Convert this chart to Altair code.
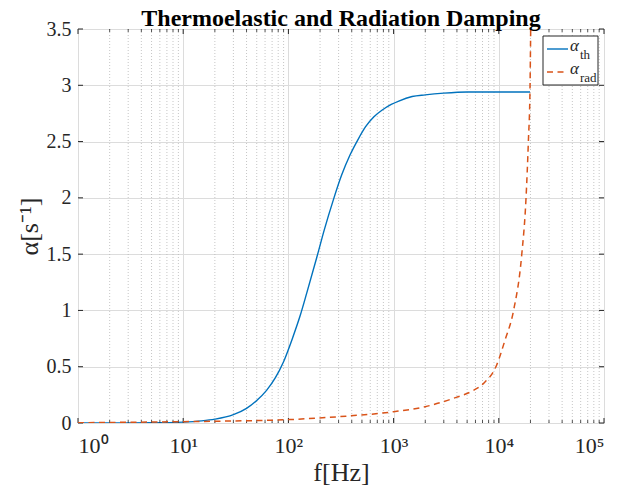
import json
import altair as alt
import pandas as pd

# ---------------- data ----------------
TITLE = "Thermoelastic and Radiation Damping"
X_TITLE = "f[Hz]"
Y_TITLE = "α[s⁻¹]"

freq_th = [1, 2, 5, 10, 15, 20, 30, 40, 50, 62, 75, 89.5, 110, 129, 150, 186, 220, 267, 320, 385,
           460, 540, 650, 780, 950, 1120, 1500, 2000, 3000, 5000, 10000, 19800]
alpha_th = [0.0003, 0.0005, 0.002, 0.008, 0.019, 0.034, 0.074, 0.13, 0.20, 0.29, 0.40, 0.54, 0.76, 0.95,
            1.16, 1.47, 1.72, 1.98, 2.2, 2.38, 2.52, 2.63, 2.72, 2.78, 2.83, 2.86, 2.9, 2.915, 2.93, 2.94,
            2.94, 2.94]

freq_rad = [1, 10, 30, 100, 300, 1000, 2000, 4000, 5500, 7130, 9550, 11460, 13750, 16500, 18150, 19100,
            19800, 20100]
alpha_rad = [0.002, 0.012, 0.018, 0.03, 0.056, 0.10, 0.145, 0.23, 0.28, 0.35, 0.515, 0.737, 0.99, 1.49,
             2.0, 2.5, 2.97, 3.5]

series_symbol = "α"
series_subs = ["th", "rad"]

x_major = [1, 10, 100, 1000, 10000, 100000]
x_major_labels = ["10⁰", "10¹", "10²", "10³", "10⁴", "10⁵"]
y_major = [0, 0.5, 1, 1.5, 2, 2.5, 3, 3.5]
x_minor = [k * 10 ** d for d in range(5) for k in range(2, 10)]

# ---------------- styling ----------------
W, H = 526, 394
FONT = "Liberation Serif"
BLUE = "#0072BD"
RED = "#D95319"
DARK = "#262626"
GRID = "#dcdcdc"

xscale = alt.Scale(type="log", domain=[1, 100000])
yscale = alt.Scale(domain=[0, 3.5])

label_expr = json.dumps(x_major_labels, ensure_ascii=False) + "[round(log(datum.value)/LN10)]"

x_axis = alt.Axis(
    values=x_major, labelExpr=label_expr, title=X_TITLE, grid=True, gridColor=GRID,
    gridWidth=1, tickSize=0, domain=False, labelFont=FONT, labelFontSize=22,
    labelColor=DARK, labelPadding=12, titleFont=FONT, titleFontSize=26,
    titleFontWeight="normal", titleColor=DARK, titlePadding=3,
)
y_axis = alt.Axis(
    values=y_major, format="~g", title=Y_TITLE, grid=True, gridColor=GRID, gridWidth=1,
    tickSize=0, domain=False, labelFont=FONT, labelFontSize=20, labelColor=DARK,
    labelPadding=7, titleFont=FONT, titleFontSize=26, titleFontWeight="normal",
    titleColor=DARK, titlePadding=4,
)

X = alt.X("f:Q", scale=xscale, axis=x_axis)
Y = alt.Y("a:Q", scale=yscale, axis=y_axis)

df_th = pd.DataFrame({"f": freq_th, "a": alpha_th})
df_rad = pd.DataFrame({"f": freq_rad, "a": alpha_rad})
df_minor = pd.DataFrame({"f": x_minor})
df_xmaj = pd.DataFrame({"f": x_major})
df_ymaj = pd.DataFrame({"a": y_major})
one = pd.DataFrame({"k": [0]})

# minor dotted grid
minor_grid = alt.Chart(df_minor).mark_rule(color="#b8b8b8", strokeWidth=0.8, strokeDash=[1, 2]).encode(x=X)

# inward ticks (MATLAB style)
xt_min_b = alt.Chart(df_minor).mark_rule(color=DARK, strokeWidth=0.8).encode(
    x=X, y=alt.value(H), y2=alt.value(H - 3))
xt_min_t = alt.Chart(df_minor).mark_rule(color=DARK, strokeWidth=0.8).encode(
    x=X, y=alt.value(0), y2=alt.value(3))
xt_maj_b = alt.Chart(df_xmaj).mark_rule(color=DARK, strokeWidth=1).encode(
    x=X, y=alt.value(H), y2=alt.value(H - 5))
xt_maj_t = alt.Chart(df_xmaj).mark_rule(color=DARK, strokeWidth=1).encode(
    x=X, y=alt.value(0), y2=alt.value(5))
yt_l = alt.Chart(df_ymaj).mark_rule(color=DARK, strokeWidth=1).encode(
    y=Y, x=alt.value(0), x2=alt.value(5))
yt_r = alt.Chart(df_ymaj).mark_rule(color=DARK, strokeWidth=1).encode(
    y=Y, x=alt.value(W), x2=alt.value(W - 5))

line_th = alt.Chart(df_th).mark_line(color=BLUE, strokeWidth=1.4, interpolate="monotone", clip=True).encode(
    x=X, y=Y)
line_rad = alt.Chart(df_rad).mark_line(color=RED, strokeWidth=1.5, strokeDash=[6, 4.5],
                                       interpolate="monotone", clip=True).encode(x=X, y=Y)

# title as text (kept clear of the axis label bounds)
title_txt = alt.Chart(one).mark_text(font=FONT, fontSize=24, fontWeight="bold", color="#000000",
                                     align="center", baseline="alphabetic").encode(
    x=alt.value(W / 2), y=alt.value(-3), text=alt.value(TITLE))

# legend box
LX0, LX1, LY0, LY1 = 465, 520, 7, 56
leg_box = alt.Chart(one).mark_rect(fill="white", stroke=DARK, strokeWidth=1).encode(
    x=alt.value(LX0), x2=alt.value(LX1), y=alt.value(LY0), y2=alt.value(LY1))
leg_l1 = alt.Chart(one).mark_rule(color=BLUE, strokeWidth=1.4).encode(
    x=alt.value(469), x2=alt.value(490), y=alt.value(20))
leg_l2 = alt.Chart(one).mark_rule(color=RED, strokeWidth=1.5, strokeDash=[6, 4.5]).encode(
    x=alt.value(469), x2=alt.value(490), y=alt.value(43))
txt = dict(font=FONT, color=DARK, align="left", baseline="alphabetic")
leg_a1 = alt.Chart(one).mark_text(fontSize=17, fontStyle="italic", **txt).encode(
    x=alt.value(492), y=alt.value(22), text=alt.value(series_symbol))
leg_s1 = alt.Chart(one).mark_text(fontSize=13, **txt).encode(
    x=alt.value(502), y=alt.value(30), text=alt.value(series_subs[0]))
leg_a2 = alt.Chart(one).mark_text(fontSize=17, fontStyle="italic", **txt).encode(
    x=alt.value(492), y=alt.value(45), text=alt.value(series_symbol))
leg_s2 = alt.Chart(one).mark_text(fontSize=13, **txt).encode(
    x=alt.value(502), y=alt.value(53), text=alt.value(series_subs[1]))

chart = alt.layer(
    minor_grid, line_th, xt_min_b, xt_min_t, xt_maj_b, xt_maj_t, yt_l, yt_r, line_rad,
    leg_box, leg_l1, leg_l2, leg_a1, leg_s1, leg_a2, leg_s2, title_txt,
).properties(
    width=W, height=H,
    autosize=alt.AutoSizeParams(type="none"),
    padding={"left": 70, "top": 21, "right": 20, "bottom": 70},
).configure_view(stroke=DARK, strokeWidth=1).configure(background="white")

chart.save("out.html", embed_options={"renderer": "svg", "actions": False})
